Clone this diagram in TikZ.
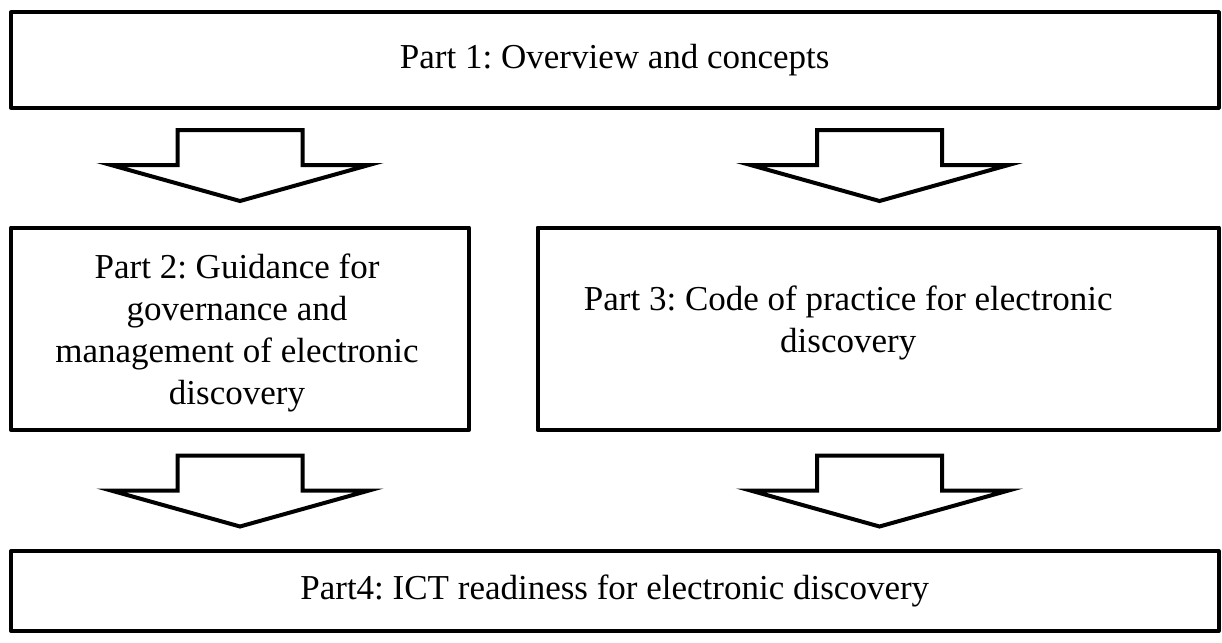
\documentclass[tikz,border=0pt]{standalone}
\usepackage{fontspec}
\setmainfont{Liberation Serif}
\usetikzlibrary{calc}
\frenchspacing
\begin{document}
\begin{tikzpicture}[x=1pt,y=-1pt,
  box/.style={draw=black, line width=4pt, line join=round, inner sep=0pt, outer sep=0pt,
    font=\fontsize{35}{42}\selectfont, align=center},
  lbl/.style={font=\fontsize{35}{42}\selectfont, align=center, inner sep=0pt},
  arrowline/.style={draw=black, fill=white, line width=4pt, line join=miter, miter limit=20},
  blkarrow/.pic={\path[arrowline] (-62.5,0) -- (62.5,0) -- (62.5,35) -- (129,35) -- (0,71) -- (-129,35) -- (-62.5,35) -- cycle;}
]
\useasboundingbox (0,0) rectangle (1222,642);
\node[box, minimum width=1207.5pt, minimum height=95pt] (p1) at (614.75,60) {Part 1: Overview and concepts};
\node[box, minimum width=458pt, minimum height=202.5pt] (p2) at (240,328.75) {};
\node[lbl] (t2) at ($(p2.center)+(-3,4)$) {Part 2: Guidance for\\ governance and\\ management of electronic\\ discovery};
\node[box, minimum width=681.5pt, minimum height=202.5pt] (p3) at (878.25,328.75) {};
\node[lbl] (t3) at ($(p3.center)+(-30,-6)$) {Part 3: Code of practice for electronic\\ discovery};
\node[box, minimum width=1207.5pt, minimum height=80pt] (p4) at (614.75,591) {Part4: ICT readiness for electronic discovery};
\pic at ($(p1.south -| p2.center)+(0,22.5)$) {blkarrow};
\pic at ($(p1.south -| p3.center)+(1.25,22.5)$) {blkarrow};
\pic at ($(p2.south)+(0,25.5)$) {blkarrow};
\pic at ($(p3.south)+(1.25,25.5)$) {blkarrow};
\end{tikzpicture}
\end{document}
